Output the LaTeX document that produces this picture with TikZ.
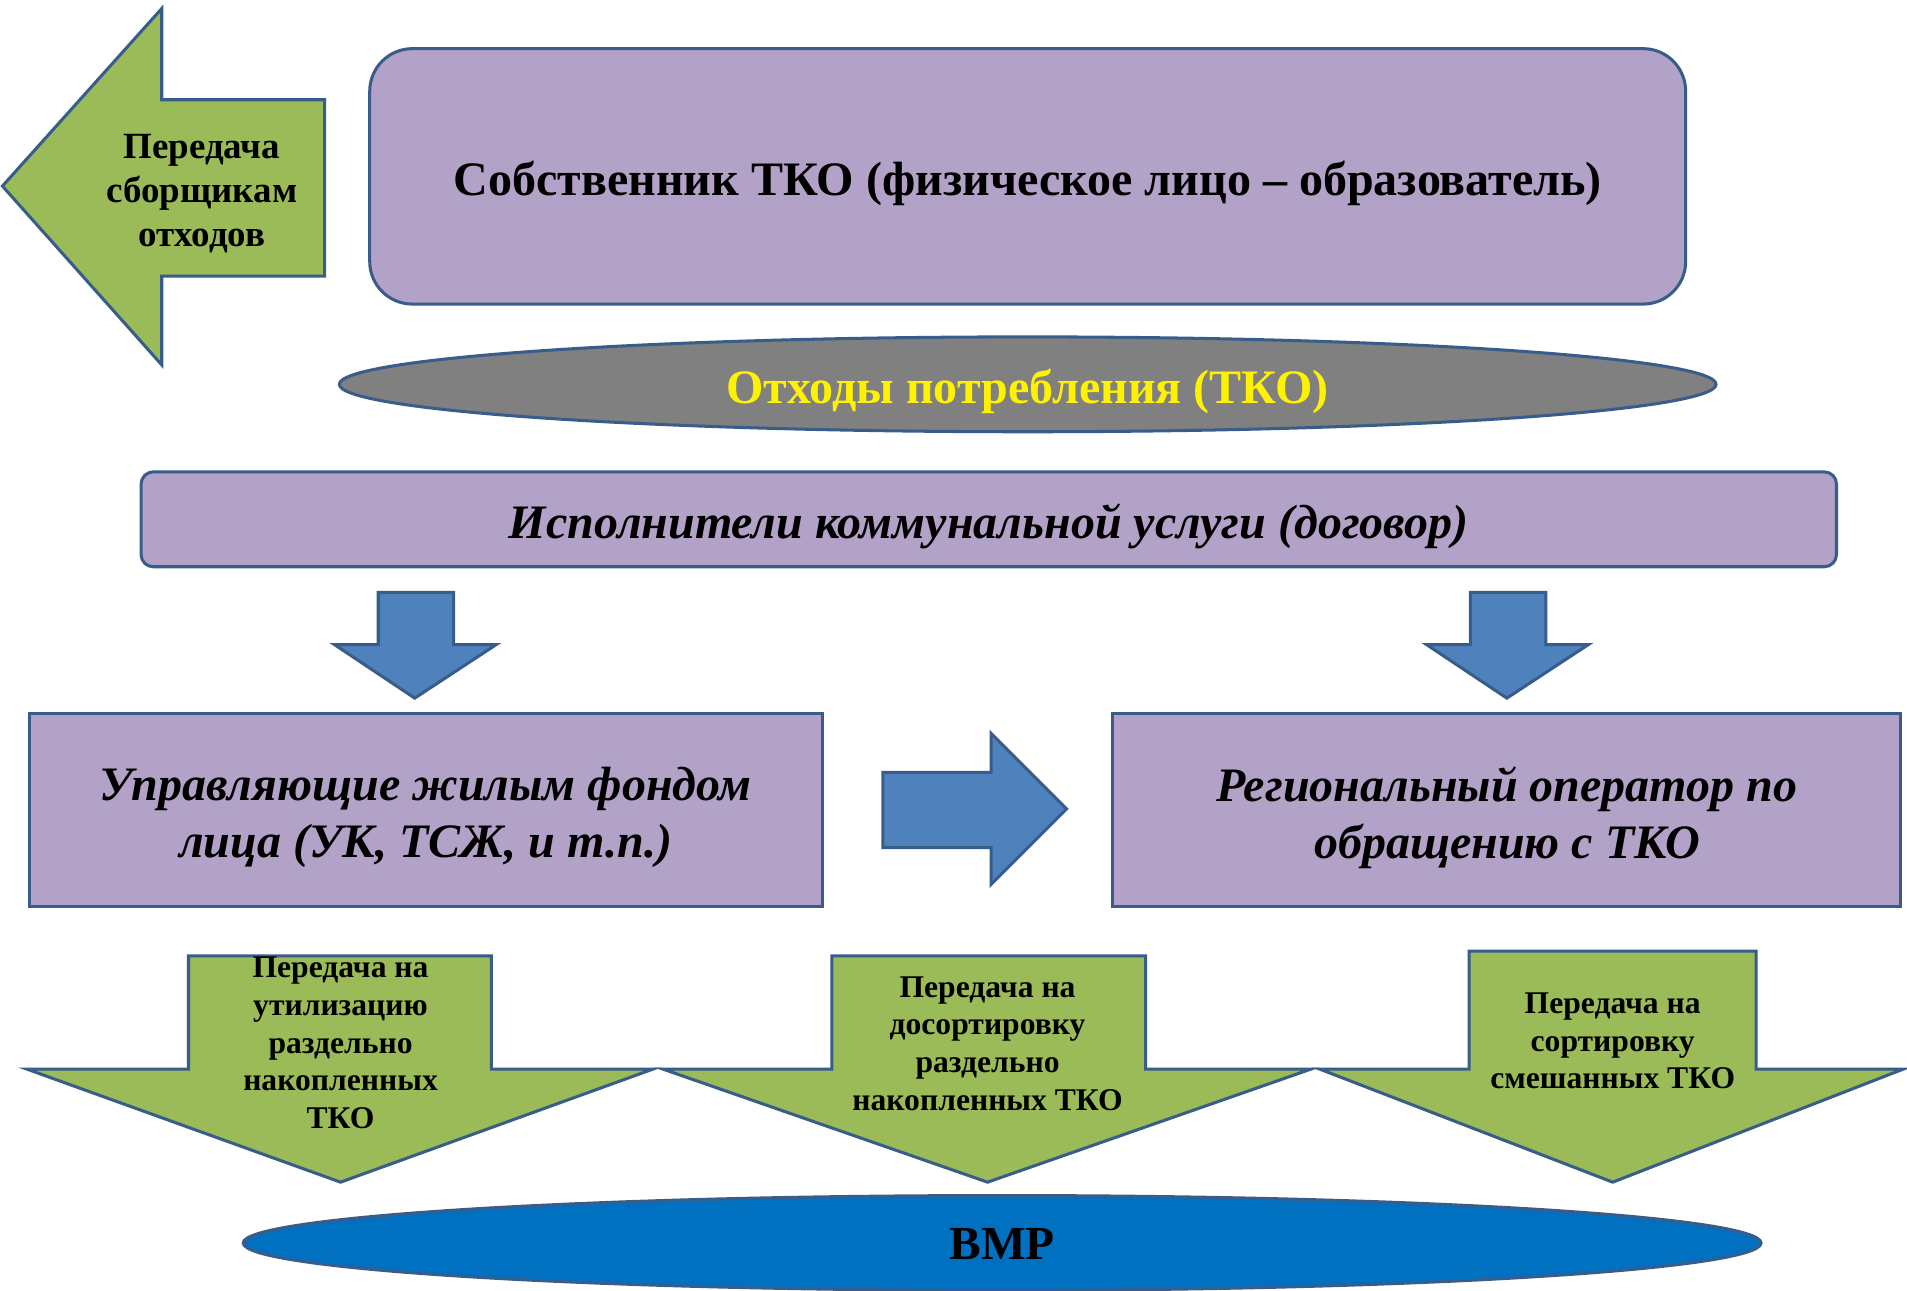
\documentclass[tikz,border=0pt]{standalone}
\usepackage{fontspec}
\setmainfont{Liberation Serif}
\usetikzlibrary{shapes.geometric}
\definecolor{lilac}{HTML}{B3A2C7}
\definecolor{edge}{HTML}{385D8A}
\definecolor{leaf}{HTML}{9BBB59}
\definecolor{sky}{HTML}{4F81BD}
\definecolor{sea}{HTML}{0070C0}
\definecolor{ash}{HTML}{808080}
\begin{document}
\begin{tikzpicture}[x=1pt,y=-1pt,
	box/.style={draw=edge,fill=lilac,line width=2.5pt},
	oval/.style={ellipse,draw=edge,line width=2.5pt},
	greenarrow/.style={draw=edge,fill=leaf,line width=2.5pt},
	bluearrow/.style={draw=edge,fill=sky,line width=2.5pt},
	big/.style={font=\bfseries\fontsize{39.5}{47}\selectfont,align=center},
	bigit/.style={font=\bfseries\itshape\fontsize{39.5}{47}\selectfont,align=center},
	small/.style={font=\bfseries\fontsize{26}{31}\selectfont,align=center}]
	\useasboundingbox (0,0) rectangle (1568,1061);

	% shapes
	\node[box,rounded corners=35pt,minimum width=1082pt,minimum height=210pt] (owner) at (845,145) {};
	\node[oval,fill=ash,minimum width=1132pt,minimum height=78pt] (waste) at (845,316) {};
	\node[box,rounded corners=10pt,minimum width=1394pt,minimum height=78pt] (exec) at (813,427) {};
	\node[box,minimum width=652pt,minimum height=158pt] (manager) at (350,666) {};
	\node[box,minimum width=648pt,minimum height=158pt] (operator) at (1239,666) {};
	\node[oval,fill=sea,minimum width=1248pt,minimum height=78pt] (vmr) at (824,1022) {};

	% block arrows
	\draw[greenarrow] (267,82) -- (133,82) -- (133,7) -- (2,153) -- (133,300) -- (133,227) -- (267,227) -- cycle;
	\foreach \x in {0,898}
		\draw[bluearrow,xshift=\x] (311,487) -- (373,487) -- (373,530) -- (408,530) -- (341,574) -- (275,530) -- (311,530) -- cycle;
	\draw[bluearrow] (726,635) -- (815,635) -- (815,603) -- (877,665) -- (815,727) -- (815,697) -- (726,697) -- cycle;
	\foreach \l/\r/\t/\hl/\hr/\tip in {155/404/786/22/537/280,684/942/786/545/1078/812,1208/1444/782/1085/1565/1326}
		\draw[greenarrow] (\l,\t) -- (\r,\t) -- (\r,879) -- (\hr,879) -- (\tip,972) -- (\hl,879) -- (\l,879) -- cycle;

	% texts
	\node[big] (ownertext) at (845,150.75) {Собственник ТКО (физическое лицо – образователь)};
	\node[big,text=yellow] (wastetext) at (845,321.75) {Отходы потребления (ТКО)};
	\node[bigit] (exectext) at (813,432.75) {Исполнители коммунальной услуги (договор)};
	\node[bigit] (managertext) at (350,672.25) {Управляющие жилым фондом\\лица (УК, ТСЖ, и т.п.)};
	\node[bigit] (operatortext) at (1239,672.25) {Региональный оператор по\\обращению с ТКО};
	\node[font=\bfseries\fontsize{30.4}{36}\selectfont,align=center] (collectors) at (166,159) {Передача\\сборщикам\\отходов};
	\node[small] (recycle) at (280,857.5) {Передача на\\утилизацию\\раздельно\\накопленных\\ТКО};
	\node[small] (resort) at (812,858) {Передача на\\досортировку\\раздельно\\накопленных ТКО};
	\node[small] (sort) at (1326,856) {Передача на\\сортировку\\смешанных ТКО};
	\node[font=\bfseries\fontsize{39}{44}\selectfont] (vmrtext) at (824,1023) {ВМР};
\end{tikzpicture}
\end{document}
